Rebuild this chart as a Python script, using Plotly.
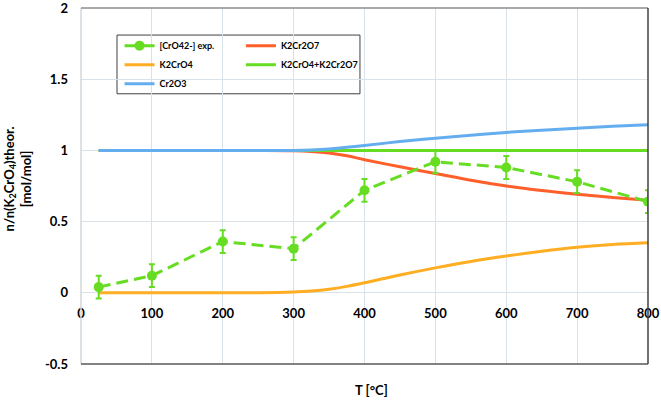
import plotly.graph_objects as go

# Experimental data
T_exp = [25, 100, 200, 300, 400, 500, 600, 700, 800]
y_exp = [0.04, 0.12, 0.36, 0.31, 0.72, 0.92, 0.88, 0.78, 0.64]
err_exp = [0.08, 0.08, 0.08, 0.08, 0.08, 0.08, 0.08, 0.08, 0.08]

# Theoretical curves
T_th = [25, 50, 100, 150, 200, 250, 300, 325, 350, 375, 400, 450, 500, 550, 600, 650, 700, 750, 800]
k2cr2o7 = [1, 1, 1, 1, 1, 1, 0.998, 0.993, 0.982, 0.962, 0.935, 0.885, 0.838, 0.79, 0.75, 0.718, 0.692, 0.67, 0.65]
k2cro4 = [0, 0, 0, 0, 0, 0, 0.005, 0.012, 0.025, 0.045, 0.07, 0.125, 0.175, 0.22, 0.258, 0.292, 0.32, 0.34, 0.352]
sum_cr = [1, 1, 1, 1, 1, 1, 1, 1, 1, 1, 1, 1, 1, 1, 1, 1, 1, 1, 1]
cr2o3 = [1, 1, 1, 1, 1, 1, 1.0, 1.003, 1.01, 1.022, 1.035, 1.062, 1.086, 1.107, 1.126, 1.142, 1.156, 1.169, 1.18]

x_ticks = [0, 100, 200, 300, 400, 500, 600, 700, 800]
y_ticks = [-0.5, 0, 0.5, 1, 1.5, 2]
y_ticktext = ["-0.5", "0", "0.5", "1", "1.5", "2"]

GREEN = "#66DD22"
RED = "#FF5F2A"
ORANGE = "#FFAD22"
BLUE = "#64AEEF"
FONT = "Lato"

fig = go.Figure()
fig.add_trace(go.Scatter(x=T_th, y=k2cr2o7, mode="lines", name="K2Cr2O7", legend="legend2", legendrank=1,
                         line=dict(color=RED, width=3, shape="spline")))
fig.add_trace(go.Scatter(x=T_th, y=k2cro4, mode="lines", name="K2CrO4", legend="legend", legendrank=2,
                         line=dict(color=ORANGE, width=3, shape="spline")))
fig.add_trace(go.Scatter(x=T_th, y=sum_cr, mode="lines", name="K2CrO4+K2Cr2O7", legend="legend2", legendrank=2,
                         line=dict(color=GREEN, width=3)))
fig.add_trace(go.Scatter(x=T_th, y=cr2o3, mode="lines", name="Cr2O3", legend="legend", legendrank=3,
                         line=dict(color=BLUE, width=3, shape="spline")))
fig.add_trace(go.Scatter(x=T_exp, y=y_exp, mode="lines+markers", name="[CrO42-] exp.", legend="legend", legendrank=1,
                         line=dict(color=GREEN, width=3, dash="12px,6px"),
                         marker=dict(color=GREEN, size=10),
                         error_y=dict(type="data", array=err_exp, color=GREEN, thickness=2, width=3)))

fig.update_layout(
    width=661, height=401,
    margin=dict(l=81, r=13, t=8, b=37),
    paper_bgcolor="white", plot_bgcolor="white",
    font=dict(family=FONT, color="#000000"),
    showlegend=True,
    legend=dict(x=0.068, y=0.935, xanchor="left", yanchor="top", bgcolor="rgba(0,0,0,0)",
                font=dict(family=FONT, size=9, weight="bold"), traceorder="normal",
                tracegroupgap=0, itemwidth=30),
    legend2=dict(x=0.282, y=0.935, xanchor="left", yanchor="top", bgcolor="rgba(0,0,0,0)",
                 font=dict(family=FONT, size=9, weight="bold"), traceorder="normal",
                 tracegroupgap=0, itemwidth=30),
    xaxis=dict(range=[0, 800], tickvals=x_ticks, showgrid=True, gridcolor="#D9E2E9", gridwidth=1,
               zeroline=False, showline=False, anchor="free", position=0.2, automargin=False,
               tickfont=dict(family=FONT, size=13, weight="bold"), ticks="", ticklabelstandoff=11,
               ticklabeloverflow="allow"),
    yaxis=dict(range=[-0.5, 2], tickvals=y_ticks, ticktext=y_ticktext, automargin=False,
               showgrid=True, gridcolor="#D9E2E9", gridwidth=1, zeroline=False, showline=False,
               tickfont=dict(family=FONT, size=13, weight="bold"), ticks="", ticklabelstandoff=12,
               ticklabeloverflow="allow"),
    shapes=[
        dict(type="rect", xref="paper", yref="paper", x0=0.0635, x1=0.492, y0=0.759, y1=0.924,
             line=dict(color="#404040", width=1), fillcolor="white", layer="between"),
        dict(type="line", xref="paper", yref="paper", x0=0, x1=0, y0=0, y1=1,
             line=dict(color="#D0D7DD", width=1.5)),
        dict(type="line", xref="paper", yref="paper", x0=0, x1=1, y0=1, y1=1,
             line=dict(color="#8C8C8C", width=1.5)),
        dict(type="line", xref="paper", yref="paper", x0=0, x1=1, y0=0, y1=0,
             line=dict(color="#595959", width=1.5)),
        dict(type="line", xref="paper", yref="paper", x0=1, x1=1, y0=0, y1=1,
             line=dict(color="#404040", width=1.5)),
    ],
    annotations=[
        dict(text="n/n(K<sub>2</sub>CrO<sub>4</sub>)theor.<br>[mol/mol]", xref="paper", yref="paper",
             x=-0.112, y=0.52, textangle=-90, showarrow=False, xanchor="center", yanchor="middle",
             font=dict(family=FONT, size=13, weight="bold")),
        dict(text="T [°C]", xref="paper", yref="paper", x=0.513, y=-0.046, showarrow=False,
             xanchor="center", yanchor="top", font=dict(family=FONT, size=13, weight="bold")),
    ],
)

fig.write_html("out.html", config={"displayModeBar": False},
               post_script="document.body.style.margin='0';")
